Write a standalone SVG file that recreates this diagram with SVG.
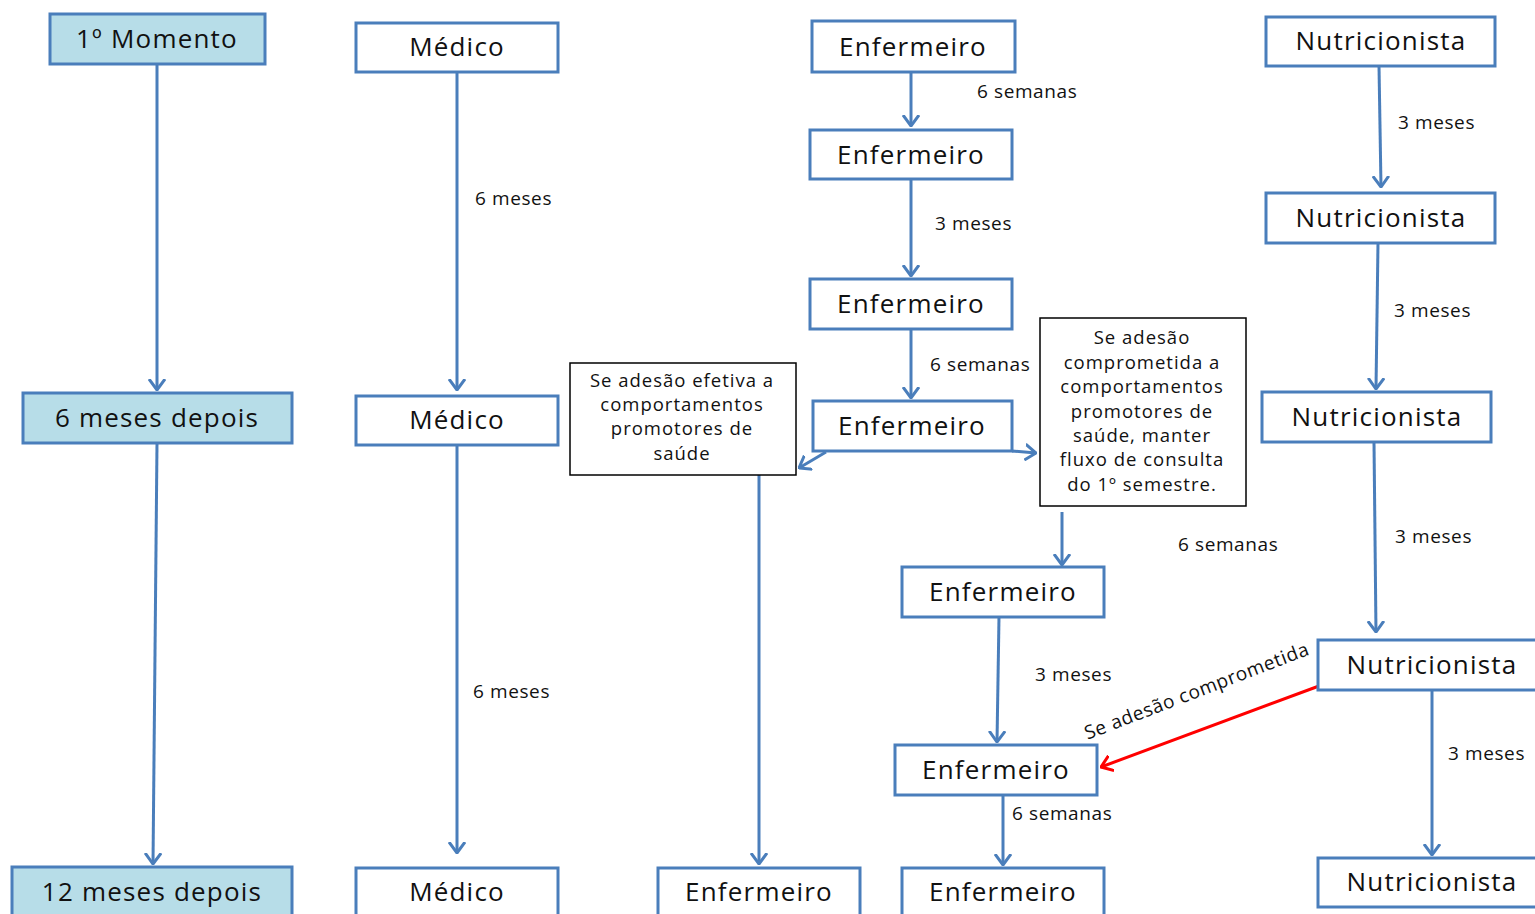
<svg xmlns="http://www.w3.org/2000/svg" width="1535" height="914" viewBox="0 0 1535 914">
<style>
.n{fill:#fff;stroke:#4a7ebb;stroke-width:3}
.h{fill:#b7dde8;stroke:#4a7ebb;stroke-width:3}
.t{fill:#fff;stroke:#000;stroke-width:1.5}
.bt{font-family:"Open Sans","Liberation Sans",sans-serif;font-size:26px;letter-spacing:1.2px;fill:#111;text-anchor:middle}
.lt{font-family:"Open Sans","Liberation Sans",sans-serif;font-size:19px;letter-spacing:0.6px;fill:#111}
.st{font-family:"Open Sans","Liberation Sans",sans-serif;font-size:18.5px;letter-spacing:1px;fill:#111;text-anchor:middle}
.c{stroke:#4a7ebb;stroke-width:3;fill:none}
.r{stroke:#ff0000;stroke-width:3;fill:none}
</style>
<defs>
<marker id="a" viewBox="0 0 12 18" refX="11" refY="9" markerWidth="12" markerHeight="18" markerUnits="userSpaceOnUse" orient="auto">
<path d="M0,1 L11,9 L0,17" fill="none" stroke="#4a7ebb" stroke-width="3"/>
</marker>
<marker id="ar" viewBox="0 0 12 18" refX="11" refY="9" markerWidth="12" markerHeight="18" markerUnits="userSpaceOnUse" orient="auto">
<path d="M0,1 L11,9 L0,17" fill="none" stroke="#ff0000" stroke-width="3"/>
</marker>
</defs>
<rect width="1535" height="914" fill="#fff"/>
<g id="connectors">
<line class="c" x1="157" y1="64" x2="157" y2="390" marker-end="url(#a)"/>
<line class="c" x1="157" y1="443" x2="153" y2="864" marker-end="url(#a)"/>
<line class="c" x1="457" y1="72" x2="457" y2="390" marker-end="url(#a)"/>
<line class="c" x1="457" y1="445" x2="457" y2="853" marker-end="url(#a)"/>
<line class="c" x1="911" y1="72" x2="911" y2="126" marker-end="url(#a)"/>
<line class="c" x1="911" y1="179" x2="911" y2="276" marker-end="url(#a)"/>
<line class="c" x1="911" y1="329" x2="911" y2="398" marker-end="url(#a)"/>
<line class="c" x1="826" y1="452" x2="799" y2="468" marker-end="url(#a)"/>
<line class="c" x1="1012" y1="451" x2="1036" y2="453" marker-end="url(#a)"/>
<line class="c" x1="759" y1="475" x2="759" y2="864" marker-end="url(#a)"/>
<line class="c" x1="1062" y1="512" x2="1062" y2="565" marker-end="url(#a)"/>
<line class="c" x1="999" y1="617" x2="997" y2="742" marker-end="url(#a)"/>
<line class="c" x1="1003" y1="795" x2="1003" y2="865" marker-end="url(#a)"/>
<line class="c" x1="1379" y1="66" x2="1381" y2="187" marker-end="url(#a)"/>
<line class="c" x1="1378" y1="243" x2="1376" y2="389" marker-end="url(#a)"/>
<line class="c" x1="1374" y1="442" x2="1376" y2="632" marker-end="url(#a)"/>
<line class="c" x1="1432" y1="690" x2="1432" y2="855" marker-end="url(#a)"/>
<line class="r" x1="1319" y1="686" x2="1101" y2="767" marker-end="url(#ar)"/>
<text class="lt" x="977" y="98">6 semanas</text>
<text class="lt" x="935" y="230">3 meses</text>
<text class="lt" x="930" y="371">6 semanas</text>
<text class="lt" x="475" y="205">6 meses</text>
<text class="lt" x="473" y="698">6 meses</text>
<text class="lt" x="1178" y="551">6 semanas</text>
<text class="lt" x="1035" y="681">3 meses</text>
<text class="lt" x="1012" y="820">6 semanas</text>
<text class="lt" x="1398" y="129">3 meses</text>
<text class="lt" x="1394" y="317">3 meses</text>
<text class="lt" x="1395" y="543">3 meses</text>
<text class="lt" x="1448" y="760">3 meses</text>
<text class="lt" transform="translate(1199,697) rotate(-21)" text-anchor="middle">Se adesão comprometida</text>
</g>
<g id="m1"><rect class="h" x="50" y="14" width="215" height="50"/><text class="bt" x="157" y="48">1º Momento</text></g>
<g id="m6"><rect class="h" x="23" y="393" width="269" height="50"/><text class="bt" x="157" y="427">6 meses depois</text></g>
<g id="m12"><rect class="h" x="12" y="867" width="280" height="50"/><text class="bt" x="152" y="901">12 meses depois</text></g>
<g id="med1"><rect class="n" x="356" y="23" width="202" height="49"/><text class="bt" x="457" y="56">Médico</text></g>
<g id="med2"><rect class="n" x="356" y="396" width="202" height="49"/><text class="bt" x="457" y="429">Médico</text></g>
<g id="med3"><rect class="n" x="356" y="868" width="202" height="49"/><text class="bt" x="457" y="901">Médico</text></g>
<g id="enf1"><rect class="n" x="812" y="21" width="203" height="51"/><text class="bt" x="913" y="56">Enfermeiro</text></g>
<g id="enf2"><rect class="n" x="810" y="130" width="202" height="49"/><text class="bt" x="911" y="164">Enfermeiro</text></g>
<g id="enf3"><rect class="n" x="810" y="279" width="202" height="50"/><text class="bt" x="911" y="313">Enfermeiro</text></g>
<g id="enf4"><rect class="n" x="813" y="401" width="199" height="50"/><text class="bt" x="912" y="435">Enfermeiro</text></g>
<g id="boxA"><rect class="t" x="570" y="363" width="226" height="112"/>
<text class="st"><tspan x="682" y="387">Se adesão efetiva a</tspan><tspan x="682" y="411">comportamentos</tspan><tspan x="682" y="435">promotores de</tspan><tspan x="682" y="460">saúde</tspan></text></g>
<g id="boxB"><rect class="t" x="1040" y="318" width="206" height="188"/>
<text class="st"><tspan x="1142" y="344">Se adesão</tspan><tspan x="1142" y="369">comprometida a</tspan><tspan x="1142" y="393">comportamentos</tspan><tspan x="1142" y="418">promotores de</tspan><tspan x="1142" y="442">saúde, manter</tspan><tspan x="1142" y="466">fluxo de consulta</tspan><tspan x="1142" y="491">do 1º semestre.</tspan></text></g>
<g id="enfA"><rect class="n" x="658" y="868" width="202" height="49"/><text class="bt" x="759" y="901">Enfermeiro</text></g>
<g id="enf5"><rect class="n" x="902" y="567" width="202" height="50"/><text class="bt" x="1003" y="601">Enfermeiro</text></g>
<g id="enf6"><rect class="n" x="895" y="745" width="202" height="50"/><text class="bt" x="996" y="779">Enfermeiro</text></g>
<g id="enf7"><rect class="n" x="902" y="868" width="202" height="49"/><text class="bt" x="1003" y="901">Enfermeiro</text></g>
<g id="nut1"><rect class="n" x="1266" y="17" width="229" height="49"/><text class="bt" x="1381" y="50">Nutricionista</text></g>
<g id="nut2"><rect class="n" x="1266" y="193" width="229" height="50"/><text class="bt" x="1381" y="227">Nutricionista</text></g>
<g id="nut3"><rect class="n" x="1262" y="392" width="229" height="50"/><text class="bt" x="1377" y="426">Nutricionista</text></g>
<g id="nut4"><rect class="n" x="1318" y="640" width="230" height="50"/><text class="bt" x="1432" y="674">Nutricionista</text></g>
<g id="nut5"><rect class="n" x="1318" y="858" width="230" height="49"/><text class="bt" x="1432" y="891">Nutricionista</text></g>
</svg>
